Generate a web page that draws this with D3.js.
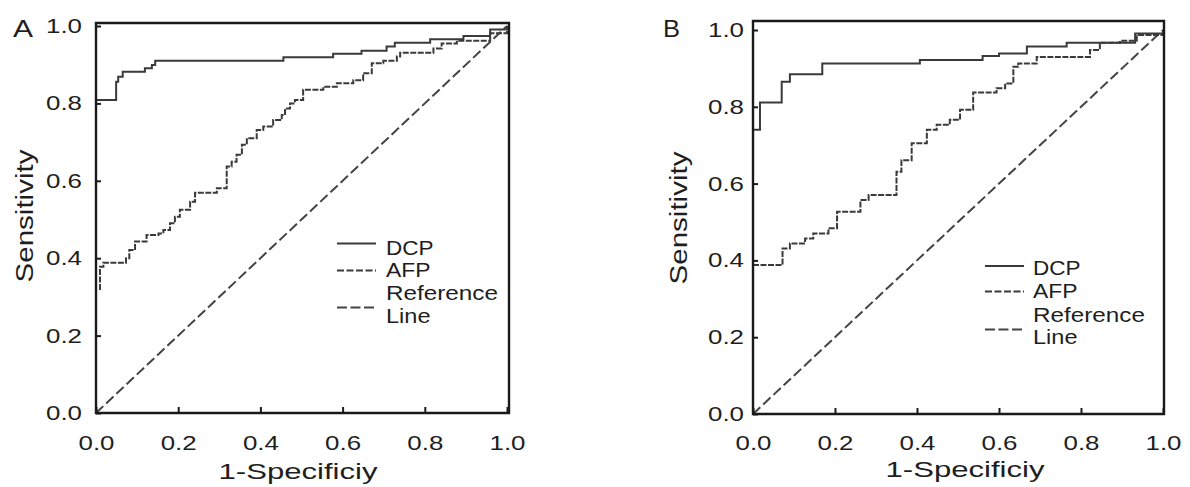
<!DOCTYPE html>
<html>
<head>
<meta charset="utf-8">
<script src="https://cdn.jsdelivr.net/npm/d3@7"></script>
<style>
  html, body { margin: 0; padding: 0; background: #fff; }
  svg { display: block; }
  text { font-family: "Liberation Sans", Arial, sans-serif; fill: #1e1e1e; }
</style>
</head>
<body>
<svg id="chart" width="1190" height="487"></svg>
<script>
// ---------- DATA ----------
const tickValues = [0, 0.2, 0.4, 0.6, 0.8, 1.0];
const tickLabels = ["0.0", "0.2", "0.4", "0.6", "0.8", "1.0"];
const xTitle = "1-Specificiy";
const yTitle = "Sensitivity";
const legendLabels = ["DCP", "AFP", "Reference", "Line"];
const panelLetters = ["A", "B"];

// Panel A ROC vertices [1-specificity, sensitivity] (step-after)
const dcpA = [[0,0.736],[0,0.809],[0.049,0.856],[0.054,0.869],[0.065,0.882],[0.119,0.891],
  [0.136,0.899],[0.144,0.910],[0.456,0.919],[0.577,0.928],[0.646,0.936],[0.707,0.947],
  [0.727,0.957],[0.813,0.966],[0.894,0.974],[0.959,0.991],[1,1]];
const afpA = [[0.0097,0.318],[0.0097,0.378],[0.018,0.388],[0.073,0.400],[0.081,0.421],
  [0.095,0.443],[0.123,0.460],[0.152,0.464],[0.164,0.473],[0.180,0.490],[0.192,0.507],
  [0.204,0.525],[0.229,0.546],[0.241,0.569],[0.294,0.581],[0.318,0.637],[0.330,0.649],
  [0.342,0.667],[0.355,0.693],[0.367,0.710],[0.391,0.731],[0.407,0.740],[0.431,0.757],
  [0.452,0.770],[0.460,0.787],[0.472,0.800],[0.484,0.809],[0.504,0.835],[0.553,0.843],
  [0.586,0.852],[0.626,0.860],[0.650,0.878],[0.671,0.904],[0.699,0.910],[0.732,0.921],
  [0.740,0.931],[0.821,0.942],[0.841,0.955],[0.878,0.962],[0.959,0.981],[1,1]];

// Panel B ROC vertices
const dcpB = [[0,0.795],[0,0.740],[0.017,0.811],[0.070,0.865],[0.090,0.885],[0.169,0.913],
  [0.407,0.922],[0.560,0.932],[0.600,0.939],[0.668,0.957],[0.765,0.967],[0.932,0.991],[1,1]];
const afpB = [[0,0.388],[0.072,0.431],[0.090,0.444],[0.127,0.457],[0.147,0.470],[0.184,0.484],
  [0.205,0.527],[0.262,0.557],[0.282,0.570],[0.350,0.631],[0.362,0.661],[0.387,0.705],
  [0.424,0.740],[0.448,0.753],[0.480,0.766],[0.505,0.792],[0.537,0.837],[0.594,0.848],
  [0.615,0.861],[0.635,0.904],[0.647,0.913],[0.692,0.930],[0.822,0.948],[0.846,0.967],
  [0.895,0.972],[0.936,0.987],[1,1]];
const refLine = [[0,0],[1,1]];

// ---------- LAYOUT ----------
const panels = [
  { letter: panelLetters[0], dcp: dcpA, afp: afpA,
    x0: 96, x1: 507, frameR: 509, y0: 413, y1: 26, frameT: 23,
    yLabPad: 14, xLabPad: 23,
    letterX: 13, letterY: 37, letterW: 20,
    yTitleX: 33, yTitleY: 216, xTitleX: 298, xTitleY: 479,
    legX: 337, legTextX: 386, legSampleY: [243.5, 270.5, 307.5], legTextY: [255, 277, 300, 323] },
  { letter: panelLetters[1], dcp: dcpB, afp: afpB,
    x0: 753, x1: 1163, frameR: 1164, y0: 414, y1: 30, frameT: 21,
    yLabPad: 9, xLabPad: 22,
    letterX: 663, letterY: 37, letterW: 17,
    yTitleX: 687, yTitleY: 218, xTitleX: 965, xTitleY: 477,
    legX: 985, legTextX: 1033, legSampleY: [266, 291.5, 329.5], legTextY: [275, 298, 321.5, 344] }
];

const svg = d3.select("#chart");
svg.append("rect").attr("width", 1190).attr("height", 487).attr("fill", "#fff");

const lineCol = "#3a3a3a";
const axisCol = "#1a1a1a";
const legendW = { DCP: 47.5, AFP: 44.5, Reference: 112, Line: 44.5 };

panels.forEach(p => {
  const x = d3.scaleLinear().domain([0, 1]).range([p.x0, p.x1]);
  const y = d3.scaleLinear().domain([0, 1]).range([p.y0, p.y1]);
  const g = svg.append("g");

  // curves
  const step = d3.line().x(d => x(d[0])).y(d => y(d[1])).curve(d3.curveStepAfter);
  const diag = d3.line().x(d => x(d[0])).y(d => y(d[1]));
  g.append("path").datum(refLine).attr("d", diag).attr("fill", "none")
    .attr("stroke", "#444").attr("stroke-width", 2).attr("stroke-dasharray", "10,4");
  g.append("path").datum(p.afp).attr("d", step).attr("fill", "none")
    .attr("stroke", lineCol).attr("stroke-width", 2).attr("stroke-dasharray", "6,1.5");
  g.append("path").datum(p.dcp).attr("d", step).attr("fill", "none")
    .attr("stroke", lineCol).attr("stroke-width", 2);

  // frame
  g.append("path")
    .attr("d", `M${p.x0},${p.frameT}H${p.frameR}V${p.y0}H${p.x0}Z`)
    .attr("fill", "none").attr("stroke", axisCol).attr("stroke-width", 2.4);

  // axes (inward ticks)
  const xa = g.append("g").attr("transform", `translate(0,${p.y0})`)
    .call(d3.axisBottom(x).tickValues(tickValues).tickFormat((d, i) => tickLabels[i])
      .tickSizeInner(-6).tickSizeOuter(0).tickPadding(p.xLabPad));
  const ya = g.append("g").attr("transform", `translate(${p.x0},0)`)
    .call(d3.axisLeft(y).tickValues(tickValues).tickFormat((d, i) => tickLabels[i])
      .tickSizeInner(-5).tickSizeOuter(0).tickPadding(p.yLabPad));
  [xa, ya].forEach(a => {
    a.select(".domain").remove();
    a.attr("color", axisCol);
    a.selectAll("line").attr("stroke-width", 2);
    a.selectAll("text").style("font-family", '"Liberation Sans", Arial, sans-serif')
      .attr("font-size", 20).attr("fill", "#1e1e1e")
      .attr("textLength", 36).attr("lengthAdjust", "spacingAndGlyphs");
  });

  // titles
  g.append("text").attr("x", p.xTitleX).attr("y", p.xTitleY).attr("text-anchor", "middle")
    .attr("font-size", 22).attr("textLength", 159).attr("lengthAdjust", "spacingAndGlyphs")
    .text(xTitle);
  g.append("text").attr("transform", `translate(${p.yTitleX},${p.yTitleY}) rotate(-90)`)
    .attr("text-anchor", "middle").attr("font-size", 23)
    .attr("textLength", 133).attr("lengthAdjust", "spacingAndGlyphs").text(yTitle);
  g.append("text").attr("x", p.letterX).attr("y", p.letterY).attr("font-size", 23)
    .attr("textLength", p.letterW).attr("lengthAdjust", "spacingAndGlyphs").text(p.letter);

  // legend
  const dashes = [null, "7,2.5", "10,3.5"];
  dashes.forEach((dsh, i) => {
    const l = g.append("line").attr("x1", p.legX).attr("x2", p.legX + 39)
      .attr("y1", p.legSampleY[i]).attr("y2", p.legSampleY[i])
      .attr("stroke", i === 2 ? "#444" : lineCol).attr("stroke-width", 2);
    if (dsh) l.attr("stroke-dasharray", dsh);
  });
  legendLabels.forEach((t, i) => {
    g.append("text").attr("x", p.legTextX).attr("y", p.legTextY[i]).attr("font-size", 21)
      .attr("textLength", legendW[t]).attr("lengthAdjust", "spacingAndGlyphs").text(t);
  });
});
</script>
</body>
</html>
